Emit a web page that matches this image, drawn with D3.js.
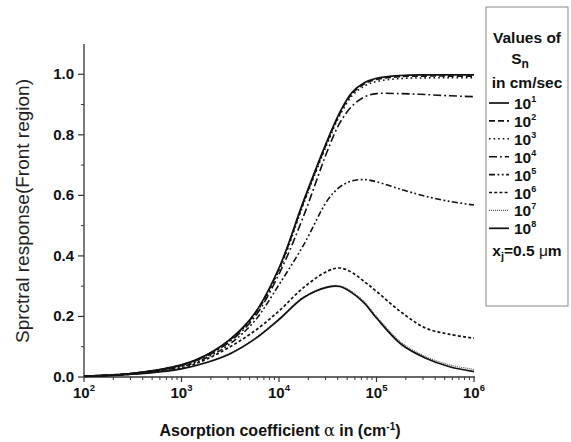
<!DOCTYPE html>
<html><head><meta charset="utf-8">
<script src="https://cdn.jsdelivr.net/npm/d3@7"></script>
<style>
body{margin:0;background:#fff;}
text{font-family:"Liberation Sans",Arial,sans-serif;font-weight:bold;fill:#111;}
</style></head><body>
<svg id="c" width="571" height="442"></svg>
<script>
// log10 of absorption coefficient (cm^-1)
const logAlpha = [2, 2.5, 3, 3.25, 3.5, 3.75, 4, 4.25, 4.5, 4.625, 4.75, 4.875, 5, 5.25, 5.5, 5.75, 6];
const exponents = [1, 2, 3, 4, 5, 6, 7, 8];
const s1 = [0.003,0.012,0.040,0.072,0.125,0.210,0.360,0.580,0.785,0.875,0.940,0.972,0.987,0.996,0.998,0.998,0.998];
const s2 = [0.003,0.012,0.040,0.071,0.124,0.208,0.357,0.576,0.781,0.871,0.936,0.968,0.983,0.992,0.994,0.994,0.994];
const s3 = [0.003,0.012,0.039,0.070,0.122,0.205,0.352,0.570,0.775,0.865,0.929,0.961,0.976,0.986,0.988,0.989,0.989];
const s4 = [0.003,0.011,0.038,0.068,0.118,0.198,0.340,0.530,0.750,0.840,0.895,0.925,0.936,0.936,0.933,0.929,0.926];
const s5 = [0.003,0.010,0.034,0.063,0.110,0.185,0.305,0.435,0.585,0.628,0.648,0.652,0.645,0.620,0.597,0.580,0.568];
const s6 = [0.003,0.010,0.030,0.058,0.100,0.152,0.218,0.295,0.350,0.360,0.345,0.315,0.283,0.215,0.162,0.141,0.128];
const s7 = [0.002,0.009,0.028,0.048,0.079,0.127,0.192,0.264,0.299,0.301,0.281,0.248,0.200,0.115,0.068,0.040,0.025];
const s8 = [0.002,0.009,0.027,0.047,0.077,0.125,0.190,0.262,0.297,0.299,0.278,0.244,0.195,0.109,0.063,0.034,0.018];
const seriesValues = [s1, s2, s3, s4, s5, s6, s7, s8];
const yTicks = [0, 0.2, 0.4, 0.6, 0.8, 1.0];
const xTickExp = [2, 3, 4, 5, 6];

const styles = [
  {dash:null, w:1.7, c:"#111"},
  {dash:"6,3", w:1.6, c:"#111"},
  {dash:"1.6,3", w:1.6, c:"#111"},
  {dash:"8,3,1.8,3", w:1.6, c:"#111"},
  {dash:"6,2.5,1.8,2.5,1.8,2.5", w:1.6, c:"#111"},
  {dash:"3,2.2", w:1.7, c:"#111"},
  {dash:"1,1", w:1.2, c:"#555"},
  {dash:null, w:1.7, c:"#111"}
];

const svg = d3.select("#c");
const x = d3.scaleLog().domain([1e2, 1e6]).range([84, 474]);
const y = d3.scaleLinear().domain([0, 1.1]).range([377, 44]);

// axes
const xMinor = [];
for (let e = 2; e < 6; e++) for (let m = 2; m <= 9; m++) xMinor.push(m * Math.pow(10, e));
const gx = svg.append("g").attr("transform","translate(0,377)");
gx.append("line").attr("x1",84).attr("x2",475).attr("stroke","#333").attr("stroke-width",1.3);
gx.selectAll(".mj").data(xTickExp).enter().append("line")
  .attr("x1",d=>x(Math.pow(10,d))).attr("x2",d=>x(Math.pow(10,d))).attr("y1",0).attr("y2",5)
  .attr("stroke","#333").attr("stroke-width",1.2);
gx.selectAll(".mn").data(xMinor).enter().append("line")
  .attr("x1",d=>x(d)).attr("x2",d=>x(d)).attr("y1",0).attr("y2",3)
  .attr("stroke","#333").attr("stroke-width",1);
const xl = gx.selectAll(".xl").data(xTickExp).enter().append("text")
  .attr("x",d=>x(Math.pow(10,d))).attr("y",21).attr("text-anchor","middle").style("font-size","15px");
xl.append("tspan").text("10");
xl.append("tspan").attr("dy",-7).style("font-size","9.5px").text(d=>d);

const gy = svg.append("g");
gy.append("line").attr("x1",84).attr("x2",84).attr("y1",44).attr("y2",377).attr("stroke","#333").attr("stroke-width",1.3);
const yMinor = d3.range(1, 11, 2).map(i => i/10);
gy.selectAll(".ymj").data(yTicks).enter().append("line")
  .attr("x1",78).attr("x2",84).attr("y1",d=>y(d)).attr("y2",d=>y(d)).attr("stroke","#333").attr("stroke-width",1.2);
gy.selectAll(".ymn").data(yMinor).enter().append("line")
  .attr("x1",81).attr("x2",84).attr("y1",d=>y(d)).attr("y2",d=>y(d)).attr("stroke","#333").attr("stroke-width",1);
gy.selectAll(".yl").data(yTicks).enter().append("text")
  .attr("x",74).attr("y",d=>y(d)+5).attr("text-anchor","end").style("font-size","15px")
  .text(d=>d.toFixed(1));

// axis titles
const xt = svg.append("text").attr("x",280).attr("y",436).attr("text-anchor","middle").style("font-size","16px");
xt.append("tspan").text("Asorption coefficient ");
xt.append("tspan").style("font-family","'DejaVu Serif',serif").style("font-weight","normal").text("α");
xt.append("tspan").text(" in (cm");
xt.append("tspan").attr("dy",-6).style("font-size","10px").text("-1");
xt.append("tspan").attr("dy",6).text(")");
svg.append("text").attr("transform","translate(29,211) rotate(-90)").attr("text-anchor","middle")
  .style("font-size","19px").style("font-weight","normal").style("fill","#222")
  .text("Sprctral response(Front region)");

// curves
const line = d3.line().x((d,i)=>x(Math.pow(10, logAlpha[i]))).y(d=>y(d)).curve(d3.curveCatmullRom.alpha(0.5));
svg.selectAll(".curve").data(seriesValues).enter().append("path")
  .attr("d", d=>line(d)).attr("fill","none")
  .attr("stroke",(d,i)=>styles[i].c).attr("stroke-width",(d,i)=>styles[i].w)
  .attr("stroke-dasharray",(d,i)=>styles[i].dash);

// legend
const lg = svg.append("g");
lg.append("rect").attr("x",486).attr("y",7).attr("width",82).attr("height",299)
  .attr("fill","none").attr("stroke","#888").attr("stroke-width",1);
lg.append("text").attr("x",527).attr("y",43).attr("text-anchor","middle").style("font-size","15.5px").text("Values of");
const sn = lg.append("text").attr("x",520).attr("y",64).attr("text-anchor","middle").style("font-size","15.5px");
sn.append("tspan").text("S");
sn.append("tspan").attr("dy",4).style("font-size","12px").text("n");
lg.append("text").attr("x",527).attr("y",88).attr("text-anchor","middle").style("font-size","15.5px").text("in cm/sec");
const items = lg.selectAll(".it").data(exponents).enter().append("g")
  .attr("transform",(d,i)=>`translate(0,${103 + i*17.9})`);
items.append("line").attr("x1",489).attr("x2",509).attr("y1",0).attr("y2",0)
  .attr("stroke",(d,i)=>styles[i].c).attr("stroke-width",(d,i)=>styles[i].w)
  .attr("stroke-dasharray",(d,i)=>styles[i].dash);
const it = items.append("text").attr("x",514).attr("y",6).style("font-size","15.5px");
it.append("tspan").text("10");
it.append("tspan").attr("dy",-7).style("font-size","9px").text(d=>d);
const xj = lg.append("text").attr("x",527).attr("y",256).attr("text-anchor","middle").style("font-size","15.5px");
xj.append("tspan").text("x");
xj.append("tspan").attr("dy",4).style("font-size","11px").text("j");
xj.append("tspan").attr("dy",-4).text("=0.5 ");
xj.append("tspan").style("font-weight","normal").text("μ");
xj.append("tspan").text("m");
</script>
</body></html>
